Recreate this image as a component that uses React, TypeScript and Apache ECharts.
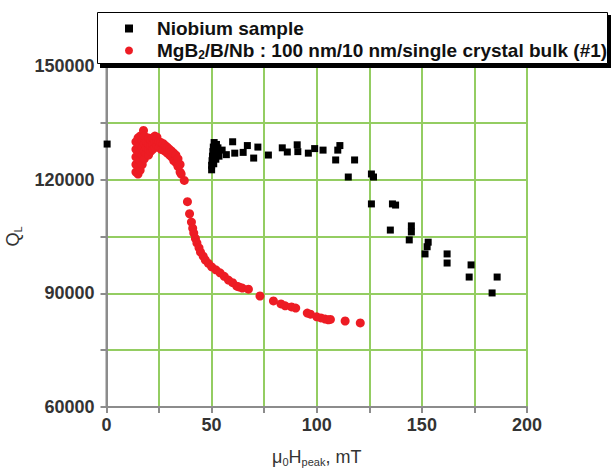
import React, { useEffect, useRef } from "react";
import * as echarts from "echarts";

const xTicks = [0, 50, 100, 150, 200];
const yTicks = [60000, 90000, 120000, 150000];

const niobium: [number, number][] = [
  [0.3, 129400],
  [50, 122600], [50, 123800], [50.2, 125000], [50.4, 126200], [50.6, 127400],
  [50.8, 128600], [51, 124200], [51.2, 129800], [51.5, 126800], [51.8, 128200],
  [52, 125400], [52.3, 129300], [52.6, 127000], [53, 128400], [53.5, 126200],
  [55, 127800], [57, 126600], [60, 130000], [61, 127000], [65, 127200],
  [67, 129000], [70, 125700], [72, 128600], [77, 126500], [83.6, 128400],
  [86, 127300], [90.7, 129200], [91, 127400], [96, 127000], [99, 128200],
  [103, 127800], [109, 125200], [110, 127800], [111, 129000], [115, 120700],
  [118, 125200], [126, 121500], [127, 120700], [126, 113600], [136, 113600],
  [137.5, 113300], [135, 106700], [145, 107800], [145, 106200], [144, 104100],
  [153, 103500], [152.5, 102300], [151.5, 100400], [162, 100400], [162, 98000],
  [173.4, 97500], [172.5, 94300], [185.8, 94300], [183.4, 90100],
];

const mgb2: [number, number][] = [
  [14, 122000], [14, 124000], [14, 126000], [14, 128000], [14, 130000],
  [15, 121500], [15, 123500], [15, 125500], [15, 127500], [15, 129500], [15, 131000],
  [16, 122500], [16, 125000], [16, 127000], [16, 129000], [16, 131500],
  [17, 124000], [17, 126500], [17, 128500], [17, 130500], [17.6, 133000],
  [18, 125500], [18, 127500], [18, 129500], [18, 131500],
  [19, 127000], [19, 128500], [19, 130000],
  [20, 126500], [20, 128000], [20, 129500], [20, 131000],
  [21, 127500], [21, 129000], [21, 130500],
  [22, 128000], [22, 129500], [22, 131000],
  [23, 128500], [23, 130000], [23, 131500],
  [24, 129000], [24, 130500], [24, 131200],
  [25, 128500], [25, 130000], [26, 128000], [26, 129800],
  [27, 127800], [27, 129500], [28, 127500], [28, 129000],
  [29, 127000], [29, 128500], [30, 126500], [30, 128000],
  [31, 126000], [31, 127500], [32, 125000], [32, 127000],
  [33, 124500], [33, 126500], [34, 123500], [34, 125500],
  [35, 122000], [35, 124000], [35.5, 121500],
  [37, 119800], [38.5, 114200], [39.5, 111000], [40.4, 108800], [41, 107200],
  [41.5, 105900], [42.3, 104500], [43, 103300], [44, 102000], [44.7, 100900],
  [46, 99800], [47, 98800], [48.5, 97900], [50, 97000], [52, 96200],
  [54, 95400], [56, 94500], [58, 93500], [60, 92800], [62, 91900],
  [63, 91700], [64.6, 91400], [67.5, 91100], [73, 89300], [79.4, 88000],
  [83, 87200], [85, 86700], [88, 86400], [90, 86100], [95.5, 84800],
  [97, 84500], [100, 83800], [102, 83500], [104, 83200], [105.5, 83000],
  [106.5, 83100], [113.5, 82700], [120.7, 82200],
];

const NAME_NB = "Niobium sample";
const NAME_MG = "MgB2/B/Nb : 100 nm/10 nm/single crystal bulk (#1)";

export default function App() {
  const ref = useRef<HTMLDivElement>(null);
  useEffect(() => {
    if (!ref.current) return;
    const chart = echarts.init(ref.current, null, { renderer: "svg" });
    const grey = "#8c8c8c";
    const green = "#94cd62";
    const labelColor = "#333";
    const font = "Liberation Sans, Arial, sans-serif";
    chart.setOption({
      animation: false,
      backgroundColor: "#fff",
      grid: {
        left: 106.5, top: 66, width: 420.5, height: 341,
        show: true, borderColor: grey, borderWidth: 2,
        containLabel: false, outerBoundsMode: "none",
      },
      graphic: [
        { type: "rect", z: 5, shape: { x: 100, y: 15, width: 511, height: 53 }, style: { fill: "#000" } },
        { type: "rect", z: 6, shape: { x: 97.5, y: 12.5, width: 510, height: 51 }, style: { fill: "#fff", stroke: "#000", lineWidth: 1 } },
      ],
      legend: {
        z: 10,
        orient: "vertical",
        left: 125,
        top: 19,
        padding: 0,
        itemWidth: 8,
        itemHeight: 8,
        itemGap: 2,
        data: [
          { name: NAME_NB, icon: "rect" },
          { name: NAME_MG, icon: "circle" },
        ],
        formatter: (name: string) =>
          name === NAME_MG
            ? "{g|}{b|MgB}{s|2}{b|/B/Nb : 100 nm/10 nm/single crystal bulk (#1)}"
            : "{g|}{b|Niobium sample}",
        textStyle: {
          rich: {
            g: { width: 19 },
            b: { fontFamily: font, fontWeight: "bold", fontSize: 19, color: "#111", lineHeight: 19 },
            s: { fontFamily: font, fontWeight: "bold", fontSize: 12, color: "#111", padding: [9, 0, 0, 0], lineHeight: 12 },
          },
        },
      },
      xAxis: {
        type: "value",
        min: 0,
        max: 200,
        interval: 25,
        name: "{a|μ}{s|0}{a|H}{s|peak}{a|, mT}",
        nameLocation: "middle",
        nameGap: 40,
        nameTextStyle: {
          rich: {
            a: { fontFamily: font, fontSize: 18, color: labelColor, lineHeight: 20 },
            s: { fontFamily: font, fontSize: 11, color: labelColor, padding: [10, 0, 0, 0], lineHeight: 11 },
          },
        },
        axisLine: { show: true, lineStyle: { color: grey, width: 2 } },
        axisTick: { show: true, length: 6, lineStyle: { color: grey, width: 2 }, interval: (i: number, v: any) => Number(v) % 50 === 0 },
        axisLabel: {
          margin: 9,
          fontFamily: font,
          fontWeight: "bold",
          fontSize: 18,
          color: labelColor,
          formatter: (v: number) => (xTicks.includes(v) ? String(v) : ""),
        },
        splitLine: { show: true, lineStyle: { color: green, width: 2 } },
      },
      yAxis: {
        type: "value",
        min: 60000,
        max: 150000,
        interval: 15000,
        name: "{a|Q}{s|L}",
        nameLocation: "middle",
        nameGap: 76,
        nameRotate: 90,
        nameTextStyle: {
          rich: {
            a: { fontFamily: font, fontSize: 18, color: labelColor, lineHeight: 20 },
            s: { fontFamily: font, fontSize: 11, color: labelColor, padding: [10, 0, 0, 0], lineHeight: 11 },
          },
        },
        axisLine: { show: true, lineStyle: { color: grey, width: 2 } },
        axisTick: { show: true, length: 6, lineStyle: { color: grey, width: 2 }, interval: (i: number, v: any) => Number(v) % 30000 === 0 },
        axisLabel: {
          margin: 12,
          fontFamily: font,
          fontWeight: "bold",
          fontSize: 18,
          color: labelColor,
          formatter: (v: number) => (yTicks.includes(v) ? String(v) : ""),
        },
        splitLine: { show: true, lineStyle: { color: green, width: 2 } },
      },
      series: [
        {
          name: NAME_NB,
          type: "scatter",
          symbol: "rect",
          symbolSize: 7,
          itemStyle: { color: "#000", opacity: 1 },
          data: niobium,
        },
        {
          name: NAME_MG,
          type: "scatter",
          symbol: "circle",
          symbolSize: 9,
          itemStyle: { color: "#ed1c24", opacity: 1 },
          data: mgb2,
        },
      ],
    });
    return () => chart.dispose();
  }, []);
  return <div ref={ref} style={{ width: 611, height: 469, position: "absolute", left: 0, top: 0 }} />;
}
